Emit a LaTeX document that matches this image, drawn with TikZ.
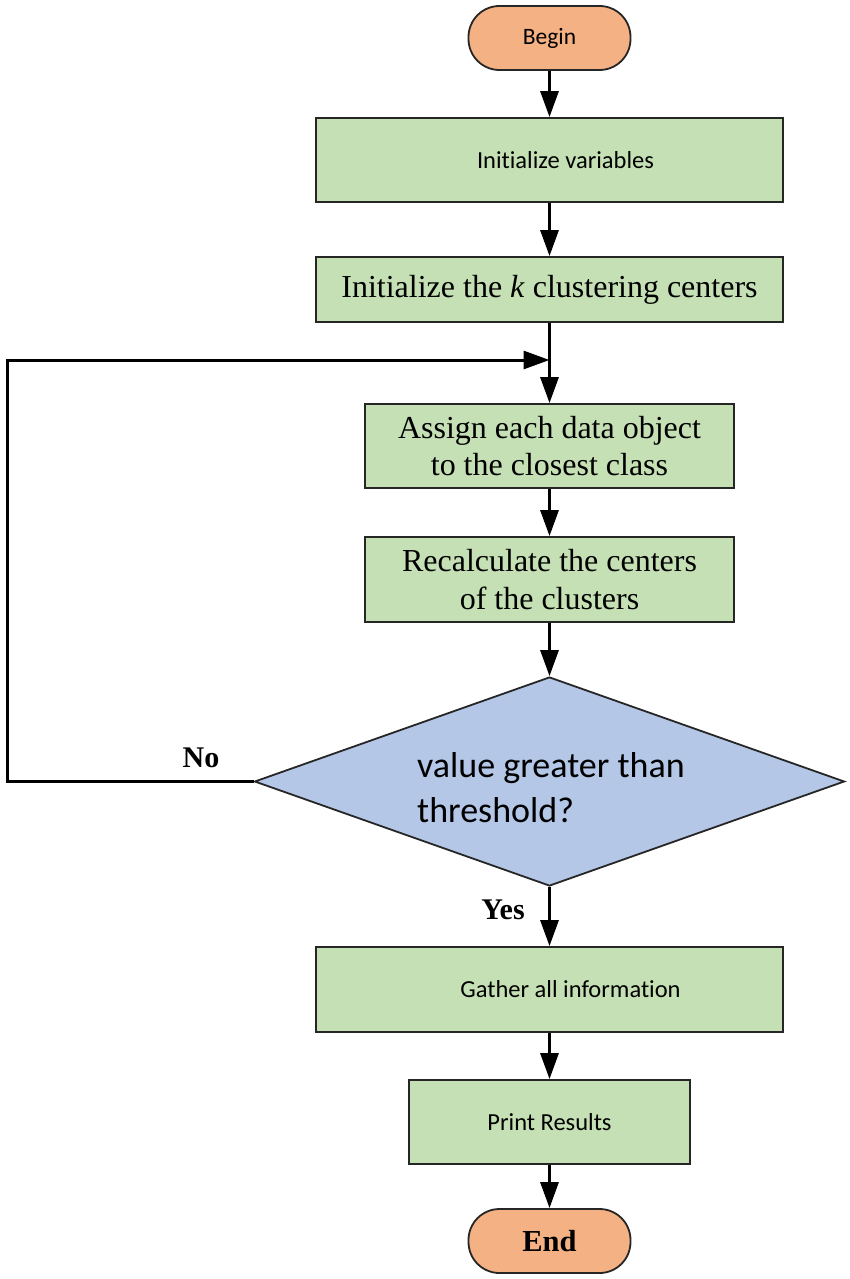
\documentclass[tikz,border=0pt]{standalone}
\usepackage{fontspec}
\setmainfont{Liberation Serif}
\newfontfamily\calib[Ligatures=NoCommon]{Carlito}
\usetikzlibrary{arrows.meta,shapes.geometric}
\definecolor{boxgreen}{HTML}{C5E0B4}
\definecolor{termorange}{HTML}{F4B183}
\definecolor{diamblue}{HTML}{B4C7E7}
\begin{document}
\begin{tikzpicture}[x=1pt,y=-1pt,
  box/.style={draw=black!85, line width=1.8pt, fill=boxgreen, inner sep=0pt, align=center},
  term/.style={draw=black!85, line width=1.8pt, fill=termorange, inner sep=0pt, rounded corners=31pt, minimum width=162pt, minimum height=64pt},
  conn/.style={line width=3pt, draw=black},
  arr/.style={conn, -{Triangle[width=18pt,length=26pt]}},
  calfont/.style={font=\calib\fontsize{24.5}{29}\selectfont},
  timesfont/.style={font=\fontsize{32}{37.5}\selectfont},
  lbl/.style={font=\bfseries\fontsize{30}{34}\selectfont, inner sep=0pt}
]
\useasboundingbox (0,0) rectangle (850,1279);
\node[term, font=\calib\fontsize{23.5}{27}\selectfont] (begin) at (549.5,38) {Begin};
\node[box, calfont, minimum width=467pt, minimum height=84pt] (initv) at (549.5,160) {\hspace*{32pt}Initialize variables};
\node[box, timesfont, minimum width=467pt, minimum height=65pt] (initk) at (549.5,289.5) {Initialize the \textit{k} clustering centers};
\node[box, timesfont, minimum width=369pt, minimum height=84pt] (assign) at (549.5,446) {Assign each data object\\to the closest class};
\node[box, timesfont, minimum width=369pt, minimum height=85pt] (recalc) at (549.5,579.5) {Recalculate the centers\\of the clusters};
\node[diamond, draw=black!85, line width=1.8pt, fill=diamblue, inner sep=0pt, minimum width=590pt, minimum height=209pt] (dec) at (549.5,781.5) {};
\node[font=\calib\fontsize{36}{45}\selectfont, align=left, anchor=west, inner sep=0pt] (dtext) at (417,787.5) {value greater than\\threshold?};
\node[box, calfont, minimum width=467pt, minimum height=85pt] (gather) at (549.5,989.5) {\hspace*{42pt}Gather all information};
\node[box, calfont, minimum width=281pt, minimum height=84pt] (print) at (549.5,1122) {Print Results};
\node[term, font=\bfseries\fontsize{30.5}{34}\selectfont] (end) at (549.5,1241) {End};
\node[lbl] (nolbl) at (201,758) {No};
\node[lbl] (yeslbl) at (503,910) {Yes};
\coordinate (join) at (549.5,360);
\coordinate (lcorner) at (7,781.5);
\draw[arr] (begin) -- (initv);
\draw[arr] (initv) -- (initk);
\draw[arr] (initk) -- (assign);
\draw[arr] (assign) -- (recalc);
\draw[arr] (recalc) -- (dec);
\draw[arr] (dec.west) -- (lcorner) |- (join);
\draw[arr] (dec) -- (gather);
\draw[arr] (gather) -- (print);
\draw[arr] (print) -- (end);
\end{tikzpicture}
\end{document}
